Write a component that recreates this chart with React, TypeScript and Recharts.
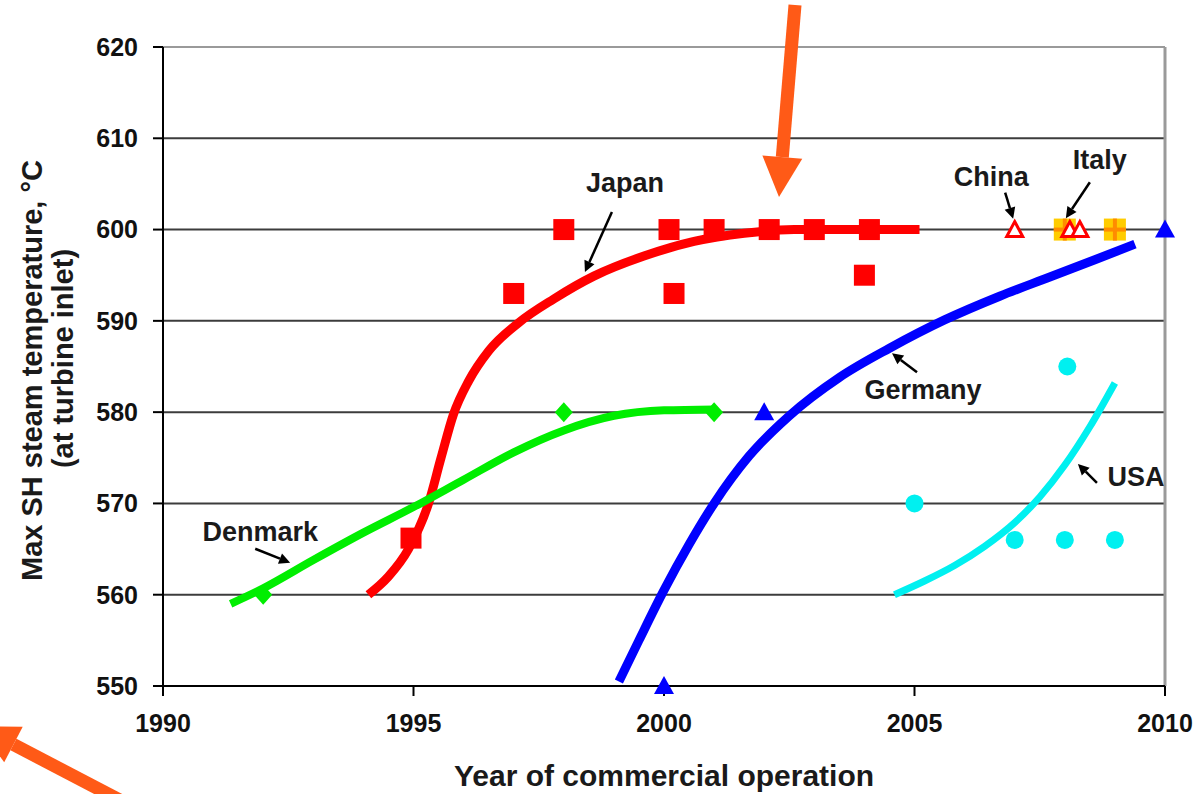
import React from "react";
import {
  ComposedChart,
  Line,
  Scatter,
  XAxis,
  YAxis,
  CartesianGrid,
  ReferenceLine,
  ReferenceDot,
} from "recharts";

type Pt = { year: number; temp: number };
const pts = (rows: number[][]): Pt[] => rows.map(([year, temp]) => ({ year, temp }));

const FONT = '"Liberation Sans", Arial, Helvetica, sans-serif';

const yearTicks = [1990, 1995, 2000, 2005, 2010];
const tempTicks = [550, 560, 570, 580, 590, 600, 610, 620];

// trend curves (year, max SH steam temperature °C)
const japanTrend = pts([
  [1994.1, 560], [1994.5, 562], [1994.9, 565], [1995.3, 570], [1995.55, 575],
  [1995.8, 579.8], [1996.1, 583.4], [1996.5, 586.7], [1997.1, 589.8], [1997.8, 592.4],
  [1998.6, 594.9], [1999.6, 597.1], [2000.6, 598.7], [2001.6, 599.6], [2002.6, 600],
  [2005.1, 600],
]);
const denmarkTrend = pts([
  [1991.35, 559], [1992, 560.7], [1993, 563.8], [1994, 566.8], [1995, 569.6],
  [1996, 572.6], [1997, 575.6], [1998, 578], [1999, 579.6], [2000, 580.2], [2001, 580.3],
]);
const germanyTrend = pts([
  [1999.1, 550.5], [1999.5, 555], [2000.0, 560.5], [2000.5, 565.5], [2001.0, 570],
  [2001.7, 575.2], [2002.5, 579.6], [2003.5, 583.8], [2004.5, 587.0], [2005.6, 590.1],
  [2006.7, 592.7], [2007.7, 594.8], [2008.6, 596.7], [2009.4, 598.4],
]);
const usaTrend = pts([
  [2004.6, 560], [2005.2, 561.5], [2005.8, 563.2], [2006.4, 565.3], [2007, 567.9],
  [2007.5, 570.7], [2008, 574.2], [2008.5, 578.4], [2009, 583.2],
]);

// individual plants
const japanPlants = pts([
  [1994.95, 566.2], [1997, 593], [1998, 600], [2000.1, 600], [2000.2, 593],
  [2001, 600], [2002.1, 600], [2003, 600], [2004.1, 600], [2004, 595],
]);
const denmarkPlants = pts([[1992, 560], [1998, 580], [2001, 580]]);
const germanyPlants = pts([[2000, 550], [2002, 580], [2010, 600]]);
const usaPlants = pts([[2005, 570], [2007, 566], [2008, 566], [2009, 566], [2008.05, 585]]);
const chinaPlants = pts([[2007, 600], [2008.1, 600], [2008.3, 600]]);
const italyPlants = pts([[2008, 600], [2009, 600]]);

// country labels with small pointer arrows (offsets in px from the label centre)
const notes = [
  { text: "Japan", year: 1999.22, temp: 605.1, tail: [-13, 29], head: [-40, 89] },
  { text: "China", year: 2006.53, temp: 605.8, tail: [14, 16], head: [22, 42] },
  { text: "Italy", year: 2008.7, temp: 607.6, tail: [-10, 22], head: [-34, 58] },
  { text: "Germany", year: 2005.17, temp: 582.4, tail: [-6, -18], head: [-31, -37] },
  { text: "USA", year: 2009.42, temp: 572.9, tail: [-39, 6], head: [-58, -13] },
  { text: "Denmark", year: 1991.94, temp: 566.9, tail: [-5, 17], head: [30, 31] },
];

function arrowParts(x1: number, y1: number, x2: number, y2: number, len: number, half: number) {
  const d = Math.hypot(x2 - x1, y2 - y1);
  const ux = (x2 - x1) / d;
  const uy = (y2 - y1) / d;
  const bx = x2 - ux * len;
  const by = y2 - uy * len;
  return {
    bx,
    by,
    head: `${x2},${y2} ${bx - uy * half},${by + ux * half} ${bx + uy * half},${by - ux * half}`,
  };
}

const square = (fill: string, size = 21) => (p: any) => (
  <rect x={p.cx - size / 2} y={p.cy - size / 2} width={size} height={size} fill={fill} />
);

const diamond = (p: any) => (
  <polygon
    points={`${p.cx},${p.cy - 10} ${p.cx + 9},${p.cy} ${p.cx},${p.cy + 10} ${p.cx - 9},${p.cy}`}
    fill="#00ee00"
  />
);

const triangle = (p: any) => (
  <polygon
    points={`${p.cx},${p.cy - 10} ${p.cx + 10},${p.cy + 8} ${p.cx - 10},${p.cy + 8}`}
    fill="#0000ff"
  />
);

const openTriangle = (p: any) => (
  <polygon
    points={`${p.cx},${p.cy - 8} ${p.cx + 8},${p.cy + 7} ${p.cx - 8},${p.cy + 7}`}
    fill="#fff"
    stroke="#ff0000"
    strokeWidth={3}
  />
);

const circle = (p: any) => <circle cx={p.cx} cy={p.cy} r={9} fill="#00f0f0" />;

const plusSquare = (p: any) => (
  <g>
    <rect x={p.cx - 11} y={p.cy - 11} width={22} height={22} fill="#ffcc00" />
    <line x1={p.cx} y1={p.cy - 11} x2={p.cx} y2={p.cy + 11} stroke="#ff8c00" strokeWidth={4} />
    <line x1={p.cx - 11} y1={p.cy} x2={p.cx + 11} y2={p.cy} stroke="#ff8c00" strokeWidth={4} />
  </g>
);

const noteShape = (n: (typeof notes)[number]) => (p: any) => {
  const x1 = p.cx + n.tail[0];
  const y1 = p.cy + n.tail[1];
  const x2 = p.cx + n.head[0];
  const y2 = p.cy + n.head[1];
  const a = arrowParts(x1, y1, x2, y2, 11, 5.5);
  return (
    <g>
      <text
        x={p.cx}
        y={p.cy}
        textAnchor="middle"
        dominantBaseline="central"
        fontFamily={FONT}
        fontWeight={700}
        fontSize={27}
        fill="#1a1a1a"
      >
        {n.text}
      </text>
      <line x1={x1} y1={y1} x2={a.bx} y2={a.by} stroke="#000" strokeWidth={2.5} />
      <polygon points={a.head} fill="#000" />
    </g>
  );
};

function OrangeArrow({ x1, y1, x2, y2 }: { x1: number; y1: number; x2: number; y2: number }) {
  const a = arrowParts(x1, y1, x2, y2, 40, 20);
  return (
    <g>
      <line x1={x1} y1={y1} x2={a.bx} y2={a.by} stroke="#ff5a17" strokeWidth={13} />
      <polygon points={a.head} fill="#ff5a17" />
    </g>
  );
}

const tickStyle = { fill: "#111", fontSize: 25, fontWeight: 700, fontFamily: FONT };

export default function App() {
  return (
    <div
      style={{
        position: "absolute",
        left: 0,
        top: 0,
        width: 1200,
        height: 794,
        background: "#fff",
        overflow: "hidden",
      }}
    >
      <ComposedChart width={1200} height={794} margin={{ top: 47, right: 35, bottom: 48, left: 0 }}>
        <CartesianGrid horizontal vertical={false} stroke="#3c3c3c" strokeWidth={2} />
        <XAxis
          type="number"
          dataKey="year"
          domain={[1990, 2010]}
          ticks={yearTicks}
          height={60}
          tickSize={10}
          tickMargin={18}
          tick={tickStyle}
          axisLine={{ stroke: "#000", strokeWidth: 2 }}
          tickLine={{ stroke: "#000", strokeWidth: 2 }}
          label={(props: any) => {
            const vb = props.viewBox;
            return (
              <text
                x={vb.x + vb.width / 2}
                y={vb.y + 100}
                textAnchor="middle"
                fontFamily={FONT}
                fontWeight={700}
                fontSize={30}
                fill="#1a1a1a"
              >
                Year of commercial operation
              </text>
            );
          }}
        />
        <YAxis
          type="number"
          dataKey="temp"
          domain={[550, 620]}
          ticks={tempTicks}
          width={163}
          tickSize={10}
          tickMargin={15}
          tick={tickStyle}
          axisLine={{ stroke: "#000", strokeWidth: 2 }}
          tickLine={{ stroke: "#000", strokeWidth: 2 }}
          label={(props: any) => {
            const vb = props.viewBox;
            const cy = vb.y + vb.height / 2;
            return (
              <g fontFamily={FONT} fontWeight={700} fontSize={29} fill="#1a1a1a" textAnchor="middle">
                <text x={42} y={cy + 4} transform={`rotate(-90 42 ${cy + 4})`}>
                  Max SH steam temperature, °C
                </text>
                <text x={73} y={cy - 8} transform={`rotate(-90 73 ${cy - 8})`}>
                  (at turbine inlet)
                </text>
              </g>
            );
          }}
        />
        <ReferenceLine y={620} stroke="#9a9a9a" strokeWidth={2} />
        <ReferenceLine x={2010} stroke="#9a9a9a" strokeWidth={3} />

        <Line data={japanTrend} dataKey="temp" type="monotone" stroke="#ff0000" strokeWidth={9} dot={false} isAnimationActive={false} />
        <Line data={denmarkTrend} dataKey="temp" type="monotone" stroke="#00ee00" strokeWidth={8} dot={false} isAnimationActive={false} />
        <Line data={germanyTrend} dataKey="temp" type="monotone" stroke="#0000ff" strokeWidth={9} dot={false} isAnimationActive={false} />
        <Line data={usaTrend} dataKey="temp" type="monotone" stroke="#00f0f0" strokeWidth={7} dot={false} isAnimationActive={false} />

        <Scatter data={japanPlants} shape={square("#ff0000")} isAnimationActive={false} />
        <Scatter data={denmarkPlants} shape={diamond} isAnimationActive={false} />
        <Scatter data={germanyPlants} shape={triangle} isAnimationActive={false} />
        <Scatter data={usaPlants} shape={circle} isAnimationActive={false} />
        <Scatter data={italyPlants} shape={plusSquare} isAnimationActive={false} />
        <Scatter data={chinaPlants} shape={openTriangle} isAnimationActive={false} />

        {notes.map((n) => (
          <ReferenceDot key={n.text} x={n.year} y={n.temp} r={0} shape={noteShape(n)} />
        ))}
      </ComposedChart>

      <svg
        width={1200}
        height={794}
        style={{ position: "absolute", left: 0, top: 0, pointerEvents: "none" }}
      >
        <OrangeArrow x1={795} y1={5} x2={779} y2={197} />
        <OrangeArrow x1={135} y1={808} x2={-22} y2={726} />
      </svg>
    </div>
  );
}
